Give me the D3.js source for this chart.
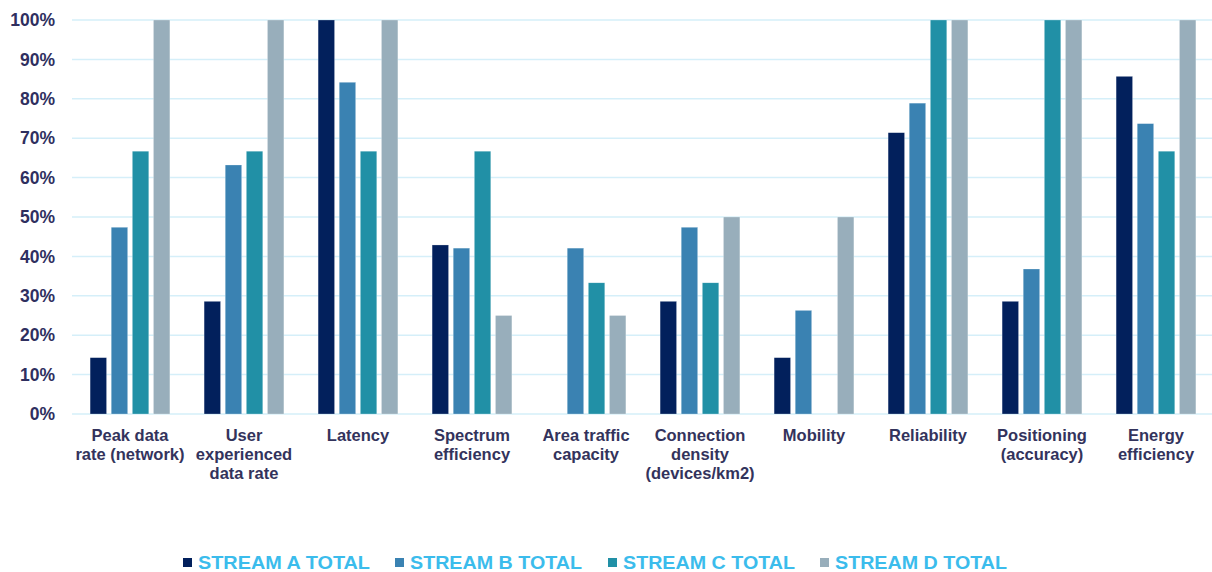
<!DOCTYPE html>
<html>
<head>
<meta charset="utf-8">
<script src="https://cdn.jsdelivr.net/npm/d3@7"></script>
<style>
  body { margin: 0; background: #fff; }
  text { font-family: "Liberation Sans", Arial, sans-serif; }
</style>
</head>
<body>
<div id="chart"></div>
<script>
// data
var categories = [
  ["Peak data", "rate (network)"],
  ["User", "experienced", "data rate"],
  ["Latency"],
  ["Spectrum", "efficiency"],
  ["Area traffic", "capacity"],
  ["Connection", "density", "(devices/km2)"],
  ["Mobility"],
  ["Reliability"],
  ["Positioning", "(accuracy)"],
  ["Energy", "efficiency"]
];
var seriesNames = ["STREAM A TOTAL", "STREAM B TOTAL", "STREAM C TOTAL", "STREAM D TOTAL"];
var streamA = [14.3, 28.6, 100, 42.9, 0, 28.6, 14.3, 71.4, 28.6, 85.7];
var streamB = [47.4, 63.2, 84.2, 42.1, 42.1, 47.4, 26.3, 78.9, 36.8, 73.7];
var streamC = [66.7, 66.7, 66.7, 66.7, 33.3, 33.3, 0, 100, 100, 66.7];
var streamD = [100, 100, 100, 25, 25, 50, 50, 100, 100, 100];
var yTicks = [0, 10, 20, 30, 40, 50, 60, 70, 80, 90, 100];
var colors = ["#02205c", "#3a82b2", "#2190a6", "#98aebb"];

var allSeries = [streamA, streamB, streamC, streamD];

var W = 1212, H = 572;
var margin = {top: 20, right: 0, bottom: 158, left: 72};
var width = W - margin.left - margin.right,
    height = H - margin.top - margin.bottom;

var svg = d3.select("#chart").append("svg")
    .attr("width", W)
    .attr("height", H);

var g = svg.append("g")
    .attr("transform", "translate(" + margin.left + "," + margin.top + ")");

var x = d3.scaleBand()
    .domain(d3.range(categories.length))
    .range([0, width])
    .paddingInner(0.3)
    .paddingOuter(0.15);

var xInner = d3.scaleBand()
    .domain(d3.range(seriesNames.length))
    .range([0, x.bandwidth()])
    .paddingInner(0.22);

var y = d3.scaleLinear()
    .domain([0, 100])
    .range([height, 0]);

// gridlines
g.append("g")
  .selectAll("line")
  .data(yTicks)
  .enter()
  .append("line")
    .attr("x1", 0)
    .attr("x2", width)
    .attr("y1", d => y(d))
    .attr("y2", d => y(d))
    .attr("stroke", "#d5eff9")
    .attr("stroke-width", 1.5);

// y axis
var yAxis = g.append("g")
    .call(d3.axisLeft(y).tickValues(yTicks).tickFormat(d => d + "%").tickSize(0).tickPadding(17));
yAxis.select(".domain").remove();
yAxis.selectAll("text")
    .attr("font-size", "17.5px")
    .attr("font-weight", "bold")
    .attr("fill", "#2f2f5f")
    .style("font-family", "'Liberation Sans', Arial, sans-serif");

// bars
var groups = g.append("g")
  .selectAll("g")
  .data(categories)
  .enter()
  .append("g")
    .attr("transform", (d, i) => "translate(" + x(i) + ",0)");

groups.selectAll("rect")
  .data((d, i) => allSeries.map((s, k) => ({k: k, v: s[i]})))
  .enter()
  .append("rect")
    .filter(d => d.v > 0)
    .attr("x", d => xInner(d.k) + 1)
    .attr("y", d => y(d.v))
    .attr("width", xInner.bandwidth())
    .attr("height", d => height - y(d.v))
    .attr("fill", d => colors[d.k])
    .attr("stroke", "#ffffff")
    .attr("stroke-opacity", 0.5)
    .attr("stroke-width", 0.5);

// category labels
var labels = g.append("g")
  .selectAll("text")
  .data(categories)
  .enter()
  .append("text")
    .attr("x", (d, i) => x(i) + x.bandwidth() / 2 + 1)
    .attr("y", height + 27)
    .attr("text-anchor", "middle")
    .attr("font-size", "16.5px")
    .attr("font-weight", "bold")
    .attr("fill", "#33335c");

labels.selectAll("tspan")
  .data(d => d)
  .enter()
  .append("tspan")
    .attr("x", function() { return d3.select(this.parentNode).attr("x"); })
    .attr("dy", (d, i) => i === 0 ? 0 : 19)
    .text(d => d);

// legend
var legendX = [183, 395, 608, 820];
var legend = svg.append("g")
  .selectAll("g")
  .data(seriesNames)
  .enter()
  .append("g")
    .attr("transform", (d, i) => "translate(" + legendX[i] + ",569)");

legend.append("rect")
    .attr("x", 0)
    .attr("y", -11)
    .attr("width", 9)
    .attr("height", 9)
    .attr("fill", (d, i) => colors[i]);

legend.append("text")
    .attr("x", 15)
    .attr("y", 0)
    .attr("font-size", "18px")
    .attr("font-weight", "bold")
    .attr("fill", "#3bbcec")
    .attr("textLength", 172)
    .attr("lengthAdjust", "spacingAndGlyphs")
    .text(d => d);
</script>
</body>
</html>
